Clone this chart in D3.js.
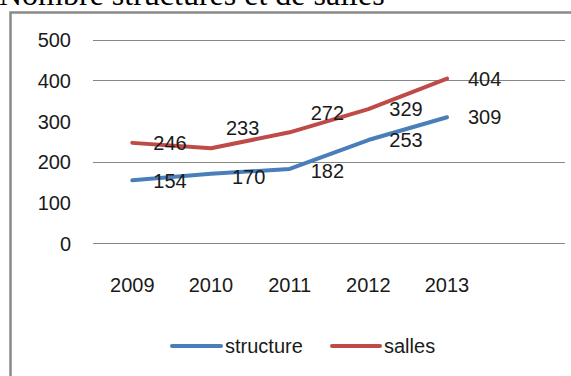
<!DOCTYPE html>
<html>
<head>
<meta charset="utf-8">
<script src="https://cdn.jsdelivr.net/npm/d3@7"></script>
<style>
  html, body { margin: 0; padding: 0; background: #fff; overflow: hidden; }
  svg { display: block; }
</style>
</head>
<body>
<script>
// Yearly counts of structures and rooms
const years = ["2009", "2010", "2011", "2012", "2013"];
const structure = [154, 170, 182, 253, 309];
const salles = [246, 233, 272, 329, 404];
const yTicks = [0, 100, 200, 300, 400, 500];
const gridValues = [0, 200, 400, 500];
const seriesNames = ["structure", "salles"];

const W = 571, H = 376;
const colors = { structure: "#4a7ebb", salles: "#be4b48" };
const font = "'Liberation Sans', Arial, sans-serif";

const svg = d3.select("body").append("svg")
  .attr("width", W).attr("height", H);

// title, partly cut off by the top edge
svg.append("text")
  .attr("x", -1).attr("y", 5)
  .attr("font-family", "'Liberation Serif', 'Times New Roman', serif")
  .attr("font-size", 32)
  .attr("fill", "#000")
  .text("Nombre structures et de salles");

// chart frame
svg.append("rect")
  .attr("x", 10.5).attr("y", 12.5)
  .attr("width", W + 20).attr("height", H + 20)
  .attr("fill", "none")
  .attr("stroke", "#8a8a8a")
  .attr("stroke-width", 2.5);

const plotLeft = 93, plotRight = 565;
const slot = (plotRight - plotLeft) / 6;
const x = d3.scaleBand().domain(years).range([plotLeft, plotLeft + slot * years.length]);
const y = d3.scaleLinear().domain([0, 500]).range([243, 39.5]);
const cx = d => x(d) + x.bandwidth() / 2;

// horizontal gridlines
svg.append("g").selectAll("line").data(gridValues).join("line")
  .attr("x1", plotLeft).attr("x2", plotRight)
  .attr("y1", d => Math.round(y(d)) + 0.5).attr("y2", d => Math.round(y(d)) + 0.5)
  .attr("stroke", "#868686").attr("stroke-width", 1);

// value axis labels
const yAxis = d3.axisLeft(y).tickValues(yTicks).tickSize(0).tickPadding(0);
const gy = svg.append("g").attr("transform", "translate(71,0)").call(yAxis);
gy.select(".domain").remove();
gy.selectAll("text")
  .attr("font-family", font).attr("font-size", 20).attr("fill", "#1a1a1a")
  .attr("dy", "0.36em");

// category axis labels
const xAxis = d3.axisBottom(x).tickSize(0).tickPadding(0);
const gx = svg.append("g").attr("transform", "translate(0,277)").call(xAxis);
gx.select(".domain").remove();
gx.selectAll("text")
  .attr("font-family", font).attr("font-size", 20).attr("fill", "#1a1a1a")
  .attr("dy", "0.76em");

const line = d3.line().x((d, i) => cx(years[i])).y(d => y(d));

const seriesData = { structure, salles };
// manual nudges of individual value labels
const labelNudge = {
  structure: { dx: [0, 0, 0, 0, 0], dy: [0, 3, 2, 0, 0] },
  salles: { dx: [0, -6, 0, 0, 0], dy: [0, -20, -19, 0, 0] }
};

seriesNames.forEach(name => {
  const vals = seriesData[name];
  svg.append("path")
    .datum(vals)
    .attr("d", line)
    .attr("fill", "none")
    .attr("stroke", colors[name])
    .attr("stroke-width", 4)
    .attr("stroke-linecap", "round")
    .attr("stroke-linejoin", "round");
});

seriesNames.forEach(name => {
  const vals = seriesData[name];
  svg.append("g").selectAll("text").data(vals).join("text")
    .attr("x", (d, i) => cx(years[i]) + 21 + labelNudge[name].dx[i])
    .attr("y", (d, i) => y(d) + labelNudge[name].dy[i])
    .attr("dy", "0.36em")
    .attr("font-family", font).attr("font-size", 20).attr("fill", "#1a1a1a")
    .text(d => d);
});

// legend
const legendItems = [
  { name: "structure", x: 172, w: 49 },
  { name: "salles", x: 332, w: 48 }
];
const lg = svg.append("g");
legendItems.forEach(it => {
  lg.append("line")
    .attr("x1", it.x).attr("x2", it.x + it.w)
    .attr("y1", 346).attr("y2", 346)
    .attr("stroke", colors[it.name]).attr("stroke-width", 4)
    .attr("stroke-linecap", "round");
  lg.append("text")
    .attr("x", it.x + it.w + 4).attr("y", 346).attr("dy", "0.36em")
    .attr("font-family", font).attr("font-size", 20).attr("fill", "#1a1a1a")
    .text(it.name);
});
</script>
</body>
</html>
